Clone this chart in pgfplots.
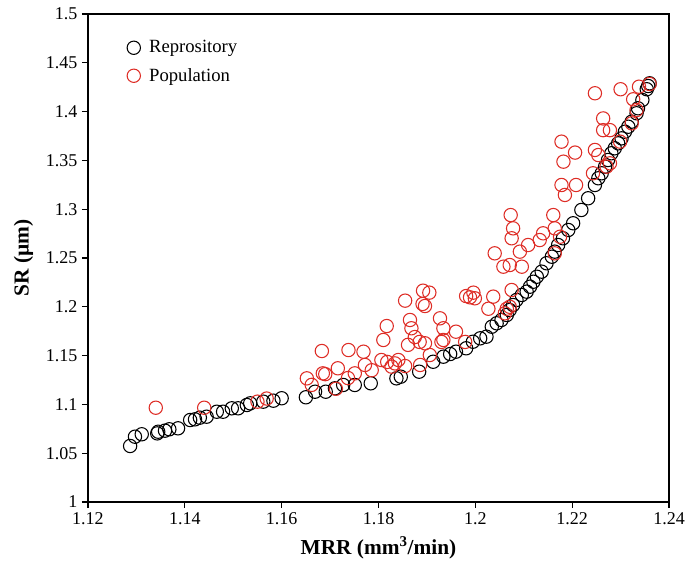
\documentclass[border=0pt]{standalone}
\usepackage{pgfplots}
\pgfplotsset{compat=1.18}
\usetikzlibrary{calc}
\usepackage{fontspec}
\setmainfont{Liberation Serif}
\definecolor{popred}{RGB}{222,45,38}
\pgfplotstableread{
x y
1.1287 1.0574
1.1297 1.0669
1.1311 1.0694
1.1343 1.0703
1.1345 1.0720
1.1359 1.0731
1.1368 1.0745
1.1386 1.0755
1.1411 1.0840
1.1421 1.0847
1.1431 1.0864
1.1445 1.0874
1.1466 1.0925
1.1479 1.0925
1.1497 1.0960
1.1510 1.0960
1.1528 1.0994
1.1535 1.1011
1.1562 1.1028
1.1583 1.1038
1.1600 1.1063
1.1650 1.1073
1.1669 1.1130
1.1691 1.1130
1.1710 1.1165
1.1727 1.1199
1.1751 1.1199
1.1784 1.1216
1.1837 1.1267
1.1846 1.1284
1.1884 1.1335
1.1913 1.1437
1.1934 1.1489
1.1948 1.1516
1.1960 1.1540
1.1981 1.1575
1.1995 1.1642
1.2010 1.1677
1.2023 1.1694
1.2034 1.1796
1.2044 1.1831
1.2054 1.1865
1.2065 1.1916
1.2071 1.1967
1.2078 1.2018
1.2085 1.2070
1.2096 1.2121
1.2106 1.2155
1.2113 1.2206
1.2120 1.2257
1.2127 1.2308
1.2137 1.2360
1.2147 1.2446
1.2158 1.2513
1.2164 1.2565
1.2171 1.2633
1.2181 1.2702
1.2192 1.2787
1.2202 1.2856
1.2219 1.2992
1.2233 1.3112
1.2247 1.3248
1.2254 1.3317
1.2261 1.3368
1.2268 1.3436
1.2274 1.3504
1.2281 1.3573
1.2288 1.3624
1.2295 1.3675
1.2302 1.3726
1.2309 1.3794
1.2316 1.3845
1.2323 1.3897
1.2333 1.3983
1.2336 1.4034
1.2345 1.4119
1.2354 1.4229
1.2357 1.4262
1.2360 1.4290
}\repo
\pgfplotstableread{
x y
1.1340 1.0966
1.1440 1.0966
1.1550 1.1028
1.1569 1.1060
1.1652 1.1267
1.1662 1.1200
1.1683 1.1547
1.1685 1.1318
1.1690 1.1310
1.1712 1.1160
1.1716 1.1370
1.1737 1.1270
1.1738 1.1557
1.1751 1.1318
1.1769 1.1540
1.1772 1.1404
1.1786 1.1350
1.1806 1.1455
1.1810 1.1660
1.1817 1.1803
1.1818 1.1435
1.1827 1.1387
1.1834 1.1420
1.1841 1.1455
1.1855 1.1393
1.1855 1.2063
1.1861 1.1610
1.1865 1.1865
1.1868 1.1780
1.1875 1.1690
1.1885 1.1640
1.1886 1.1404
1.1891 1.2029
1.1892 1.2165
1.1896 1.2008
1.1896 1.1626
1.1905 1.2145
1.1906 1.1506
1.1927 1.1882
1.1930 1.1640
1.1934 1.1780
1.1934 1.1660
1.1960 1.1745
1.1979 1.1640
1.1981 1.2110
1.1989 1.2097
1.1996 1.2145
1.1999 1.2087
1.2027 1.1980
1.2037 1.2104
1.2040 1.2548
1.2058 1.2411
1.2061 1.1933
1.2065 1.1980
1.2071 1.2000
1.2071 1.2428
1.2073 1.2940
1.2075 1.2172
1.2075 1.2702
1.2078 1.2804
1.2092 1.2565
1.2096 1.2411
1.2109 1.2633
1.2133 1.2684
1.2140 1.2753
1.2161 1.2940
1.2164 1.2804
1.2164 1.2548
1.2175 1.2718
1.2178 1.3692
1.2178 1.3248
1.2182 1.3487
1.2185 1.3146
1.2206 1.3580
1.2208 1.3248
1.2243 1.3368
1.2247 1.4188
1.2247 1.3607
1.2254 1.3555
1.2264 1.3930
1.2264 1.3810
1.2271 1.3436
1.2278 1.3810
1.2278 1.3470
1.2299 1.3692
1.2300 1.4229
1.2323 1.3880
1.2326 1.4126
1.2333 1.4016
1.2338 1.4255
1.2360 1.4283
}\pop
\begin{document}
\begin{tikzpicture}
\begin{axis}[name=ax,
  scale only axis, width=435.75pt, height=366pt,
  xmin=1.12, xmax=1.24, ymin=1, ymax=1.5,
  xtick={1.12,1.14,1.16,1.18,1.2,1.22,1.24},
  ytick={1,1.05,1.1,1.15,1.2,1.25,1.3,1.35,1.4,1.45,1.5},
  tick pos=left, tick align=outside, major tick length=4.5pt,
  tick style={black, line width=0.8pt},
  axis line style={black, line width=0.8pt},
  /pgf/number format/assume math mode=true,
  ticklabel style={font=\fontsize{13.5}{16}\selectfont},
  xlabel={\textbf{MRR (mm\textsuperscript{3}/min)}},
  ylabel={\textbf{SR (µm)}},
  label style={font=\fontsize{16}{19}\selectfont},
  xlabel style={at={(axis description cs:0.5,-0.094)}, anchor=center},
  ylabel style={at={(axis description cs:-0.111,0.5)}, anchor=center},
  legend style={draw=none, fill=none, at={(axis description cs:0.06,0.957)}, anchor=north west, font=\fontsize{14}{17}\selectfont, row sep=6pt, column sep=4.5pt},
  legend cell align=left,
]
\addplot[only marks, mark=o, mark size=5pt, black, mark options={line width=0.8pt}] table {\repo};
\addlegendentry{Reprository}
\addplot[only marks, mark=o, mark size=5pt, popred, mark options={line width=0.8pt}] table {\pop};
\addlegendentry{Population}
\end{axis}
\pgfresetboundingbox
\path[use as bounding box] ($(ax.south west)+(-66pt,-46.5pt)$) rectangle ($(ax.south west)+(448.5pt,376.5pt)$);
\end{tikzpicture}
\end{document}
